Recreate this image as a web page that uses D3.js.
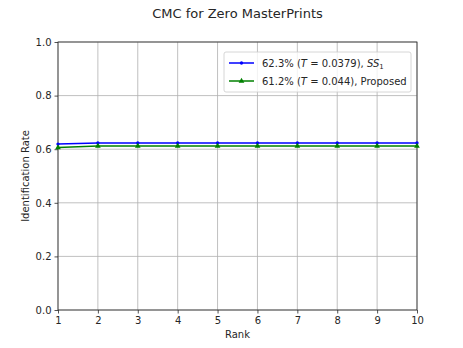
<!DOCTYPE html>
<html>
<head>
<meta charset="utf-8">
<script src="https://cdn.jsdelivr.net/npm/d3@7"></script>
<style>
  body { margin: 0; background: #fff; }
  text { font-family: "DejaVu Sans", sans-serif; fill: #262626; }
</style>
</head>
<body>
<svg id="chart" width="463" height="348"></svg>
<script>
// data
var ranks = [1, 2, 3, 4, 5, 6, 7, 8, 9, 10];
var ss1Rates = [0.619, 0.623, 0.623, 0.623, 0.623, 0.623, 0.623, 0.623, 0.623, 0.623];
var proposedRates = [0.606, 0.612, 0.612, 0.612, 0.612, 0.612, 0.612, 0.612, 0.612, 0.612];
var yTicks = [0.0, 0.2, 0.4, 0.6, 0.8, 1.0];

var margin = { top: 42, right: 46, bottom: 38, left: 58 };
var width = 463, height = 348;

var svg = d3.select('#chart');

var x = d3.scaleLinear().domain([1, 10]).range([margin.left, width - margin.right]);
var y = d3.scaleLinear().domain([0, 1]).range([height - margin.bottom, margin.top]);

// grid
svg.append('g').selectAll('line.gx')
  .data(ranks)
  .enter().append('line')
  .attr('x1', d => x(d)).attr('x2', d => x(d))
  .attr('y1', y(0)).attr('y2', y(1))
  .attr('stroke', '#b0b0b0').attr('stroke-width', 0.8);

svg.append('g').selectAll('line.gy')
  .data(yTicks)
  .enter().append('line')
  .attr('x1', x(1)).attr('x2', x(10))
  .attr('y1', d => y(d)).attr('y2', d => y(d))
  .attr('stroke', '#b0b0b0').attr('stroke-width', 0.8);

// axes
var xAxis = svg.append('g')
  .attr('transform', 'translate(0,' + y(0) + ')')
  .call(d3.axisBottom(x).tickValues(ranks).tickFormat(d3.format('d')).tickSize(3.5).tickPadding(3));

var yAxis = svg.append('g')
  .attr('transform', 'translate(' + x(1) + ',0)')
  .call(d3.axisLeft(y).tickValues(yTicks).tickFormat(d3.format('.1f')).tickSize(3.5).tickPadding(3));

[xAxis, yAxis].forEach(function (a) {
  a.select('.domain').remove();
  a.selectAll('text').style('font-size', '10px').attr('fill', '#262626');
  a.selectAll('.tick line').attr('stroke', '#262626').attr('stroke-width', 0.8);
});

// frame
svg.append('rect')
  .attr('x', x(1)).attr('y', y(1))
  .attr('width', x(10) - x(1)).attr('height', y(0) - y(1))
  .attr('fill', 'none').attr('stroke', '#262626').attr('stroke-width', 0.8);

// lines
var line = d3.line().x((d, i) => x(ranks[i])).y(d => y(d));

var series = [
  { values: ss1Rates, color: '#0000ff', marker: 'circle' },
  { values: proposedRates, color: '#008000', marker: 'triangle' }
];

var plot = svg.append('g');

series.forEach(function (s) {
  plot.append('path')
    .datum(s.values)
    .attr('d', line)
    .attr('fill', 'none')
    .attr('stroke', s.color)
    .attr('stroke-width', 1.5);

  var sym = d3.symbol().type(s.marker === 'circle' ? d3.symbolCircle : d3.symbolTriangle)
    .size(s.marker === 'circle' ? 9 : 14);

  plot.selectAll(null)
    .data(s.values)
    .enter().append('path')
    .attr('d', sym)
    .attr('transform', (d, i) => 'translate(' + x(ranks[i]) + ',' + y(d) + ')')
    .attr('fill', s.color);
});

// title and labels
svg.append('text')
  .attr('x', (x(1) + x(10)) / 2).attr('y', 18)
  .attr('text-anchor', 'middle')
  .style('font-size', '13px')
  .text('CMC for Zero MasterPrints');

svg.append('text')
  .attr('x', (x(1) + x(10)) / 2).attr('y', 338)
  .attr('text-anchor', 'middle')
  .style('font-size', '10px')
  .text('Rank');

svg.append('text')
  .attr('transform', 'translate(29,' + ((y(0) + y(1)) / 2) + ') rotate(-90)')
  .attr('text-anchor', 'middle')
  .style('font-size', '10px')
  .text('Identification Rate');

// legend
var legend = svg.append('g').attr('transform', 'translate(224,52)');
legend.append('rect')
  .attr('width', 187).attr('height', 40).attr('rx', 2)
  .attr('fill', '#fff').attr('fill-opacity', 0.8)
  .attr('stroke', '#cccccc').attr('stroke-width', 0.8);

var legendRows = legend.selectAll('g.row')
  .data(series)
  .enter().append('g')
  .attr('transform', (d, i) => 'translate(0,' + (11 + i * 18) + ')');

legendRows.append('line')
  .attr('x1', 5).attr('x2', 30)
  .attr('stroke', d => d.color).attr('stroke-width', 1.5);

legendRows.append('path')
  .attr('d', d => d3.symbol().type(d.marker === 'circle' ? d3.symbolCircle : d3.symbolTriangle)
    .size(d.marker === 'circle' ? 9 : 14)())
  .attr('transform', 'translate(17.5,0)')
  .attr('fill', d => d.color);

var t1 = legend.append('text').attr('x', 38).attr('y', 14.5).style('font-size', '10px');
t1.append('tspan').text('62.3% (');
t1.append('tspan').style('font-style', 'italic').text('T');
t1.append('tspan').text(' = 0.0379), ');
t1.append('tspan').style('font-style', 'italic').text('SS');
t1.append('tspan').attr('dy', 2).style('font-size', '7px').text('1');

var t2 = legend.append('text').attr('x', 38).attr('y', 32.5).style('font-size', '10px');
t2.append('tspan').text('61.2% (');
t2.append('tspan').style('font-style', 'italic').text('T');
t2.append('tspan').text(' = 0.044), Proposed');
</script>
</body>
</html>
